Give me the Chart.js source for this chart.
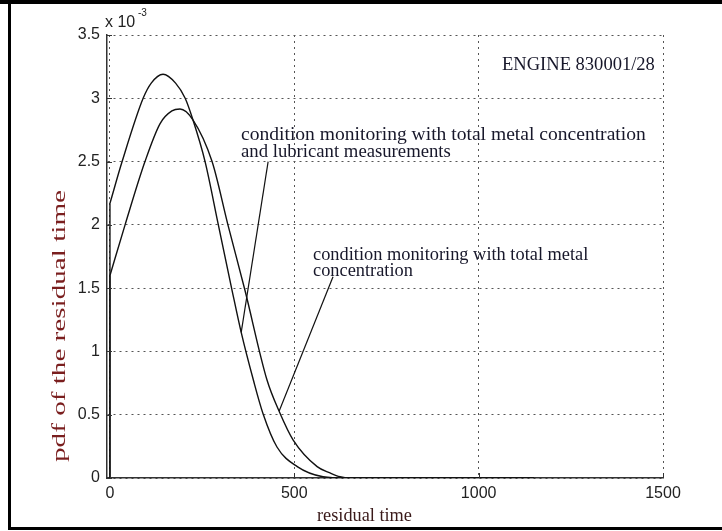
<!DOCTYPE html>
<html>
<head>
<meta charset="utf-8">
<script src="https://cdn.jsdelivr.net/npm/chart.js@4"></script>
<style>
html,body{margin:0;padding:0;background:#fff;}
canvas{display:block;}
</style>
</head>
<body>
<canvas id="c" width="722" height="531"></canvas>
<script>
// ---- data (pdf values in units of 10^-3) ----
const xTickValues = [0, 500, 1000, 1500];
const yTickValues = [0, 0.5, 1, 1.5, 2, 2.5, 3, 3.5];

// condition monitoring with total metal concentration and lubricant measurements
const timeLub = [0, 33, 90, 112, 144, 178, 204, 225, 258, 294, 331, 356, 389, 415, 453, 508, 578, 640, 1150];
const pdfLub  = [2.17, 2.5, 3.0, 3.12, 3.19, 3.12, 3.0, 2.83, 2.5, 2.0, 1.485, 1.15, 0.774, 0.51, 0.245, 0.09, 0.01, 0, 0];

// condition monitoring with total metal concentration
const timeMetal = [0, 41, 95, 136, 168, 190, 225, 277, 320, 366, 426, 460, 497, 562, 597, 624, 651, 1150];
const pdfMetal  = [1.60, 2.0, 2.5, 2.8, 2.9, 2.915, 2.83, 2.5, 2.0, 1.485, 0.774, 0.52, 0.3, 0.09, 0.04, 0.01, 0, 0];

// leader lines from annotations to curves
const leaderLubX = [429, 356];
const leaderLubY = [2.5, 1.15];
const leaderMetalX = [605, 459];
const leaderMetalY = [1.59, 0.53];

const labelLub = ['condition monitoring with total metal concentration', 'and lubricant measurements'];
const labelMetal = ['condition monitoring with total metal', 'concentration'];
const engineLabel = 'ENGINE 830001/28';
const xTitle = 'residual time';
const yTitle = 'pdf of the residual time';

const pts = (xs, ys) => xs.map((x, i) => ({x: x, y: ys[i]}));

const lineStyle = {borderColor: '#111', borderWidth: 1.4, pointRadius: 0, fill: false};

const serif = '"Liberation Serif","Times New Roman",serif';
const sans = '"Liberation Sans",Arial,sans-serif';

const overlay = {
  id: 'overlay',
  afterDraw(chart) {
    const ctx = chart.ctx;
    const xs = chart.scales.x, ys = chart.scales.y;
    ctx.save();
    // inward tick marks
    ctx.strokeStyle = '#333';
    ctx.lineWidth = 1;
    xTickValues.forEach(v => {
      const px = Math.round(xs.getPixelForValue(v)) + 0.5;
      ctx.beginPath(); ctx.moveTo(px, ys.bottom); ctx.lineTo(px, ys.bottom - 5); ctx.stroke();
    });
    yTickValues.forEach(v => {
      const py = Math.round(ys.getPixelForValue(v)) + 0.5;
      ctx.beginPath(); ctx.moveTo(xs.left, py); ctx.lineTo(xs.left + 5, py); ctx.stroke();
    });

    function sizeFor(text, w) {
      ctx.font = '100px ' + serif;
      return 100 * w / ctx.measureText(text).width;
    }
    function draw(text, x, y, size, color) {
      ctx.font = size.toFixed(2) + 'px ' + serif;
      ctx.fillStyle = color;
      ctx.textAlign = 'left';
      ctx.textBaseline = 'alphabetic';
      ctx.fillText(text, x, y);
    }
    const txt = '#17172a';
    // engine label
    draw(engineLabel, 502, 69.5, sizeFor(engineLabel, 153), txt);
    // annotation 1
    draw(labelLub[0], 241, 139.5, sizeFor(labelLub[0], 405), txt);
    draw(labelLub[1], 241, 156.5, sizeFor(labelLub[1], 210), txt);
    // annotation 2
    const s2 = sizeFor(labelMetal[1], 100);
    draw(labelMetal[0], 313, 259.5, s2, txt);
    draw(labelMetal[1], 313, 275.5, s2, txt);
    // x title
    draw(xTitle, 317, 521, sizeFor(xTitle, 95), '#3a1a1a');
    // y title (rotated)
    ctx.save();
    ctx.translate(60, 326);
    ctx.rotate(-Math.PI / 2);
    ctx.font = '18px ' + serif;
    const yw = ctx.measureText(yTitle).width;
    ctx.scale(272 / yw, 1);
    ctx.fillStyle = '#7a1e1e';
    ctx.textAlign = 'center';
    ctx.textBaseline = 'middle';
    ctx.fillText(yTitle, 0, 0);
    ctx.restore();
    // exponent label
    ctx.fillStyle = '#222';
    ctx.textAlign = 'left';
    ctx.textBaseline = 'alphabetic';
    ctx.font = '16px ' + sans;
    ctx.fillText('x 10', 105, 26.5);
    ctx.font = '10px ' + sans;
    ctx.fillText('-3', 138, 16);
    // frame
    ctx.fillStyle = '#000';
    ctx.fillRect(0, 0, 722, 4);
    ctx.fillRect(8, 0, 3, 530);
    ctx.fillRect(8, 527, 714, 3);
    ctx.restore();
  }
};

new Chart(document.getElementById('c').getContext('2d'), {
  type: 'line',
  data: {
    datasets: [
      Object.assign({data: pts(timeLub, pdfLub), cubicInterpolationMode: 'monotone'}, lineStyle),
      Object.assign({data: pts(timeMetal, pdfMetal), cubicInterpolationMode: 'monotone'}, lineStyle),
      Object.assign({data: [{x: timeLub[0], y: 0}, {x: timeLub[0], y: pdfLub[0]}], tension: 0}, lineStyle),
      Object.assign({data: [{x: timeMetal[0], y: 0}, {x: timeMetal[0], y: pdfMetal[0]}], tension: 0}, lineStyle),
      Object.assign({data: pts(leaderLubX, leaderLubY), tension: 0}, lineStyle, {borderWidth: 1.2}),
      Object.assign({data: pts(leaderMetalX, leaderMetalY), tension: 0}, lineStyle, {borderWidth: 1.2})
    ]
  },
  options: {
    responsive: false,
    animation: false,
    devicePixelRatio: 1,
    layout: {padding: {top: 35, right: 59, left: 0, bottom: 0}},
    plugins: {legend: {display: false}, tooltip: {enabled: false}, title: {display: false}},
    scales: {
      x: {
        type: 'linear', min: -8, max: 1500,
        afterBuildTicks: s => { s.ticks = xTickValues.map(v => ({value: v})); },
        afterFit: s => { s.height = 53; },
        grid: {color: '#555', lineWidth: 1, drawTicks: false},
        border: {display: true, color: '#333', width: 1.5, dash: [2, 4]},
        ticks: {padding: 6, color: '#222', font: {family: sans, size: 16}, callback: v => String(v), maxRotation: 0}
      },
      y: {
        type: 'linear', min: 0, max: 3.5,
        afterBuildTicks: s => { s.ticks = yTickValues.map(v => ({value: v})); },
        afterFit: s => { s.width = 107; },
        grid: {color: '#555', lineWidth: 1, drawTicks: false},
        border: {display: true, color: '#333', width: 1.5, dash: [2, 4]},
        ticks: {padding: 7, color: '#222', font: {family: sans, size: 16}, callback: v => String(v)}
      }
    }
  },
  plugins: [overlay]
});
</script>
</body>
</html>
